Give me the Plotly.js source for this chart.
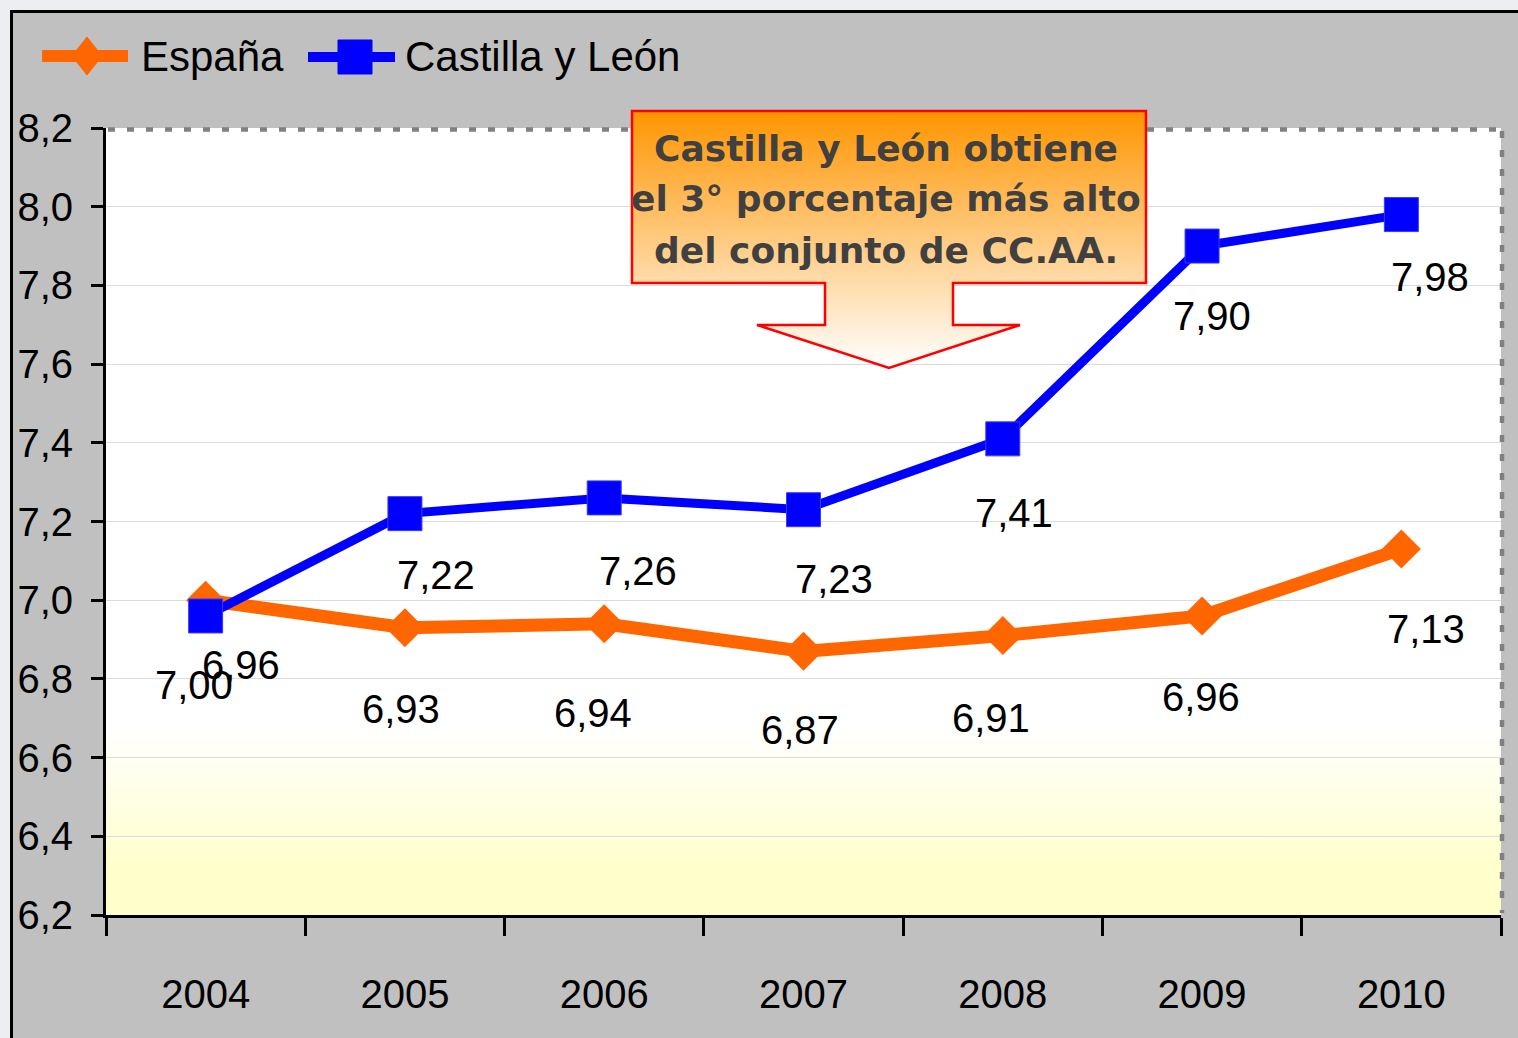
<!DOCTYPE html>
<html>
<head>
<meta charset="utf-8">
<script src="https://cdn.plot.ly/plotly-3.0.1.min.js"></script>
<style>
  html, body { margin: 0; padding: 0; background: #eceef1; }
  #chart { width: 1518px; height: 1038px; }
</style>
</head>
<body>
<div id="chart"></div>
<script>
// ---------- data ----------
const years = ['2004', '2005', '2006', '2007', '2008', '2009', '2010'];
const espana = [7.00, 6.93, 6.94, 6.87, 6.91, 6.96, 7.13];
const castilla = [6.96, 7.22, 7.26, 7.23, 7.41, 7.90, 7.98];
const seriesNames = ['España', 'Castilla y León'];
const calloutLines = ['Castilla y León obtiene', 'el 3° porcentaje más alto', 'del conjunto de CC.AA.'];

// ---------- layout helpers (pixel -> paper) ----------
const W = 1518, H = 1038;
const M = { l: 106, r: 17, t: 128, b: 123 };
const PW = W - M.l - M.r, PH = H - M.t - M.b;
const px = x => (x - M.l) / PW;
const py = y => (H - M.b - y) / PH;

const NUMFONT = '"Liberation Sans", Arial, sans-serif';
const ORANGE = '#ff6600';
const BLUE = '#0000ff';

// value-label offsets in pixels (dx right, dy down) from each point
const espShift = [[-12, 85], [-4, 81], [-11, 89], [-4, 79], [-12, 82], [-1, 81], [25, 80]];
const cylShift = [[35, 49], [31, 61], [34, 73], [30, 69], [11, 74], [10, 70], [29, 62]];

const fmt = v => v.toFixed(2).replace('.', ',');

const traces = [
  {
    x: years, y: espana, name: seriesNames[0], type: 'scatter', mode: 'lines+markers',
    line: { color: ORANGE, width: 13 },
    marker: { symbol: 'diamond', size: 30, color: ORANGE },
    hoverinfo: 'skip', cliponaxis: false
  },
  {
    x: years, y: castilla, name: seriesNames[1], type: 'scatter', mode: 'lines+markers',
    line: { color: BLUE, width: 9 },
    marker: { symbol: 'square', size: 34, color: BLUE, line: { color: '#3a3aff', width: 1 } },
    hoverinfo: 'skip', cliponaxis: false
  }
];

const annotations = [];
// category index is used as x (category-axis position of each year)
years.forEach((yr, i) => {
  annotations.push({
    x: i, y: espana[i], xref: 'x', yref: 'y', text: fmt(espana[i]), showarrow: false,
    xshift: espShift[i][0], yshift: -espShift[i][1],
    font: { family: NUMFONT, size: 40, color: '#000' }
  });
});
years.forEach((yr, i) => {
  annotations.push({
    x: i, y: castilla[i], xref: 'x', yref: 'y', text: fmt(castilla[i]), showarrow: false,
    xshift: cylShift[i][0], yshift: -cylShift[i][1],
    font: { family: NUMFONT, size: 40, color: '#000' }
  });
});

// legend texts
annotations.push({
  x: px(139), y: py(57), xref: 'paper', yref: 'paper', xanchor: 'left', yanchor: 'middle',
  text: seriesNames[0], showarrow: false, font: { family: NUMFONT, size: 42, color: '#000' }
});
annotations.push({
  x: px(403), y: py(57), xref: 'paper', yref: 'paper', xanchor: 'left', yanchor: 'middle',
  text: seriesNames[1], showarrow: false, font: { family: NUMFONT, size: 42, color: '#000' }
});

// callout text, one annotation per line
const calloutY = [148, 199, 250];
calloutLines.forEach((s, k) => {
  annotations.push({
    x: px(886), y: py(calloutY[k]), xref: 'paper', yref: 'paper', xanchor: 'center', yanchor: 'middle',
    text: '<b>' + s + '</b>', showarrow: false,
    font: { family: '"DejaVu Sans", Verdana, sans-serif', size: 36, color: '#404040' }
  });
});

// ---------- images (gradients) ----------
const plotGrad = '<svg xmlns="http://www.w3.org/2000/svg" width="100" height="100" preserveAspectRatio="none">' +
  '<defs><linearGradient id="g" x1="0" y1="0" x2="0" y2="1">' +
  '<stop offset="0" stop-color="#ffffff"/><stop offset="0.76" stop-color="#ffffff"/>' +
  '<stop offset="0.94" stop-color="#ffffcc"/><stop offset="1" stop-color="#ffffcc"/>' +
  '</linearGradient></defs><rect x="0" y="0" width="100" height="100" fill="url(#g)"/></svg>';

const CX = 629, CY = 108, CW = 520, CH = 264;
const calloutSvg = '<svg xmlns="http://www.w3.org/2000/svg" width="' + CW + '" height="' + CH + '">' +
  '<defs><linearGradient id="o" x1="0" y1="0" x2="0" y2="1">' +
  '<stop offset="0" stop-color="#ff9500"/><stop offset="1" stop-color="#ffffff"/>' +
  '</linearGradient></defs>' +
  '<path d="M3,3 H517 V175 H324 V217 H391 L260,260 L128,217 H196 V175 H3 Z" fill="url(#o)" stroke="#ff0000" stroke-width="2.5"/></svg>';

const toUri = s => 'data:image/svg+xml;charset=utf-8,' + encodeURIComponent(s);

const images = [
  {
    source: toUri(plotGrad), xref: 'x domain', yref: 'y domain', x: 0, y: 1, sizex: 1, sizey: 1,
    xanchor: 'left', yanchor: 'top', sizing: 'stretch', layer: 'below'
  },
  {
    source: toUri(calloutSvg), xref: 'paper', yref: 'paper', x: px(CX), y: py(CY),
    sizex: CW / PW, sizey: CH / PH, xanchor: 'left', yanchor: 'top', sizing: 'stretch', layer: 'above'
  }
];

// ---------- shapes ----------
function diamondPath(cx, cy, hw, hh) {
  return 'M' + px(cx - hw) + ',' + py(cy) + ' L' + px(cx) + ',' + py(cy - hh) +
    ' L' + px(cx + hw) + ',' + py(cy) + ' L' + px(cx) + ',' + py(cy + hh) + ' Z';
}
const DOT = { color: '#808080', width: 4.5, dash: '7px,12px' };
const shapes = [
  // outer gray frame
  {
    type: 'rect', xref: 'paper', yref: 'paper', x0: px(11.5), y0: py(11.5), x1: px(1540), y1: py(1060),
    fillcolor: '#c0c0c0', line: { color: '#000', width: 3 }, layer: 'below'
  },
  // dotted plot-area border (top, split around the callout, and right)
  { type: 'line', xref: 'paper', yref: 'paper', x0: px(108), x1: px(632), y0: py(129.5), y1: py(129.5), line: DOT },
  { type: 'line', xref: 'paper', yref: 'paper', x0: px(1147), x1: px(1503), y0: py(129.5), y1: py(129.5), line: DOT },
  { type: 'line', xref: 'paper', yref: 'paper', x0: px(1502), x1: px(1502), y0: py(131), y1: py(913), line: DOT },
  // legend: España
  {
    type: 'line', xref: 'paper', yref: 'paper', x0: px(42), x1: px(128), y0: py(56), y1: py(56),
    line: { color: ORANGE, width: 12 }
  },
  {
    type: 'path', xref: 'paper', yref: 'paper', path: diamondPath(87, 56, 15, 19),
    fillcolor: ORANGE, line: { color: ORANGE, width: 1 }
  },
  // legend: Castilla y León
  {
    type: 'line', xref: 'paper', yref: 'paper', x0: px(308), x1: px(395), y0: py(57), y1: py(57),
    line: { color: BLUE, width: 10 }
  },
  {
    type: 'rect', xref: 'paper', yref: 'paper', x0: px(338), x1: px(372), y0: py(40), y1: py(74),
    fillcolor: BLUE, line: { color: BLUE, width: 1 }
  }
];

const layout = {
  width: W, height: H,
  margin: M,
  paper_bgcolor: '#eceef1',
  plot_bgcolor: 'rgba(0,0,0,0)',
  separators: ',.',
  showlegend: false,
  xaxis: {
    type: 'category', tickson: 'boundaries', ticks: 'outside', ticklen: 18, tickwidth: 3, tickcolor: '#000',
    showline: true, linecolor: '#000', linewidth: 3, showgrid: false, zeroline: false,
    tickfont: { family: NUMFONT, size: 40, color: '#000' }, ticklabelstandoff: 42,
    range: [-0.5, 6.5], fixedrange: true
  },
  yaxis: {
    range: [6.2, 8.2], dtick: 0.2, tick0: 6.2, tickformat: '.1f', ticks: 'outside', ticklen: 12, tickwidth: 3,
    tickcolor: '#000', showline: true, linecolor: '#000', linewidth: 3,
    showgrid: true, gridcolor: '#dcdcdc', gridwidth: 1, zeroline: false,
    tickfont: { family: NUMFONT, size: 40, color: '#000' }, ticklabelstandoff: 10, fixedrange: true
  },
  shapes: shapes,
  images: images,
  annotations: annotations
};

Plotly.newPlot('chart', traces, layout, { displayModeBar: false, staticPlot: true });
</script>
</body>
</html>
